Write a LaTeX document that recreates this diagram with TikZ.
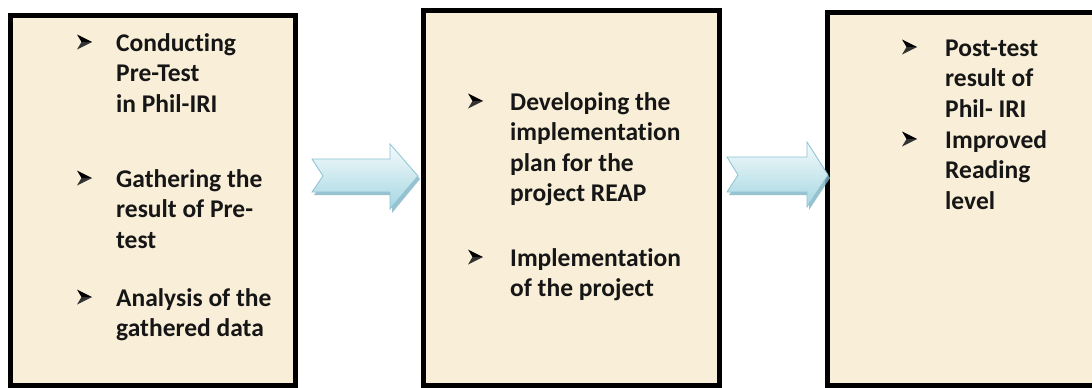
\documentclass[tikz,border=0pt]{standalone}
\usepackage{fontspec}
\setmainfont[Ligatures=NoCommon]{Carlito}
\definecolor{paper}{HTML}{F9EFD8}
\definecolor{textink}{HTML}{161616}
\definecolor{arrowtop}{HTML}{F4FBFC}
\definecolor{arrowbot}{HTML}{A6D6E2}
\definecolor{arrowedge}{HTML}{8CC3D2}
\definecolor{arrowshade}{HTML}{7FB3C3}
\begin{document}
\begin{tikzpicture}[x=1pt,y=-1pt,
  panel/.style={draw=black, line width=5pt, fill=paper, inner sep=0pt},
  % items are anchored at the baseline of their last line
  item/.style={anchor=base west, inner sep=0pt, align=left, text=textink,
    font=\bfseries\fontsize{25.5}{30.5}\selectfont},
  flow/.style={top color=arrowtop, bottom color=arrowbot, draw=arrowedge, line width=0.8pt},
  flowshadow/.style={fill=arrowshade, opacity=0.8},
  pics/bulletmark/.style={code={
    \fill[black] (0,-7.5) -- (15,0) -- (4.5,0) -- cycle;
    \fill[black!80] (4.5,0) -- (15,0) -- (0,7.5) -- cycle;
  }}
]
\useasboundingbox (0,0) rectangle (1092,388);
\clip (0,0) rectangle (1092,388);
\fill[white] (0,0) rectangle (1092,388);

% three panels
\node[panel, minimum width=285pt, minimum height=370.5pt] (p1) at (153,200.25) {};
\node[panel, minimum width=296pt, minimum height=375pt] (p2) at (571.5,198) {};
\node[panel, minimum width=272.5pt, minimum height=373pt] (p3) at (963.75,199) {};

% block arrows between the panels
\fill[flowshadow] (314,162) -- (392,162) -- (392,147) -- (420,179) -- (392,213) -- (392,195) -- (314,195) -- (325,179) -- cycle;
\draw[flow] (312,159) -- (390,159) -- (390,144) -- (418,176) -- (390,209) -- (390,192) -- (312,192) -- (323,176) -- cycle;
\fill[flowshadow] (729,160) -- (809,160) -- (809,145) -- (830,178) -- (809,210) -- (809,195) -- (729,195) -- (740,178) -- cycle;
\draw[flow] (727,157) -- (807,157) -- (807,142) -- (828,175) -- (807,207) -- (807,192) -- (727,192) -- (738,175) -- cycle;

% first panel
\pic at (77,42) {bulletmark};
\node[item] (t1a) at (116,112) {Conducting\\Pre-Test\\in Phil-IRI};
\pic at (77,178) {bulletmark};
\node[item] (t1b) at (116,248) {Gathering the\\result of Pre-\\test};
\pic at (77,297) {bulletmark};
\node[item] (t1c) at (116,336.5) {Analysis of the\\gathered data};

% second panel
\pic at (468,101) {bulletmark};
\node[item] (t2a) at (510,201.5) {Developing the\\implementation\\plan for the\\project REAP};
\pic at (468,257) {bulletmark};
\node[item] (t2b) at (510,296.5) {Implementation\\of the project};

% third panel
\pic at (902,47) {bulletmark};
\node[item] (t3a) at (945,117) {Post-test\\result of\\Phil- IRI};
\pic at (902,139) {bulletmark};
\node[item] (t3b) at (945,209) {Improved\\Reading\\level};
\end{tikzpicture}
\end{document}
